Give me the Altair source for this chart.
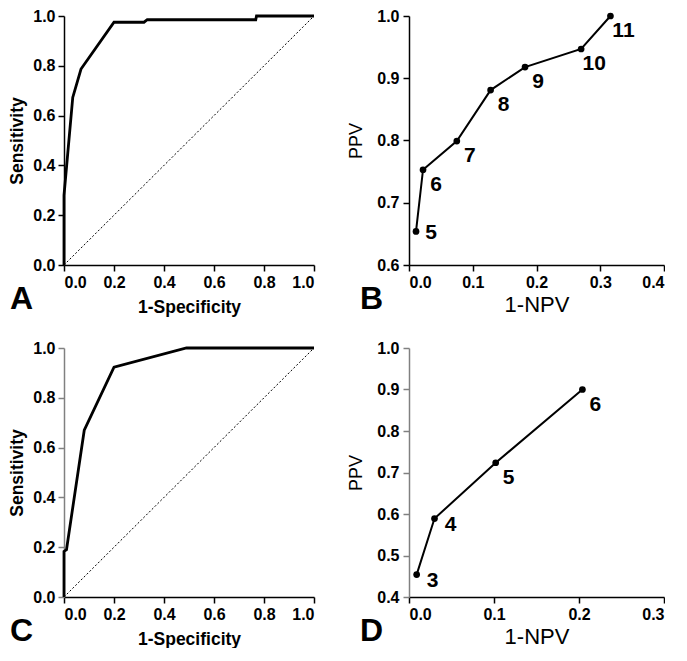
import altair as alt
import pandas as pd

# ---- data ----
roc_a_fpr = [0.0, 0.0, 0.035, 0.068, 0.2, 0.32, 0.333, 0.767, 0.77, 1.0]
roc_a_sens = [0.0, 0.28, 0.673, 0.787, 0.975, 0.975, 0.985, 0.985, 1.0, 1.0]

roc_c_fpr = [0.0, 0.0, 0.01, 0.081, 0.2, 0.49, 1.0]
roc_c_sens = [0.0, 0.183, 0.19, 0.67, 0.923, 1.0, 1.0]

b_npv = [0.011, 0.022, 0.075, 0.128, 0.182, 0.270, 0.316]
b_ppv = [0.654, 0.753, 0.799, 0.881, 0.918, 0.947, 1.0]
b_labels = ["5", "6", "7", "8", "9", "10", "11"]

d_npv = [0.009, 0.030, 0.102, 0.204]
d_ppv = [0.454, 0.589, 0.7235, 0.900]
d_labels = ["3", "4", "5", "6"]

diag_x = [0.0, 1.0]
diag_y = [0.0, 1.0]

panel_letters = ["A", "B", "C", "D"]

ticks_roc = [0.0, 0.2, 0.4, 0.6, 0.8, 1.0]
ticks_b_x = [0.0, 0.1, 0.2, 0.3, 0.4]
ticks_b_y = [0.6, 0.7, 0.8, 0.9, 1.0]
ticks_d_x = [0.0, 0.1, 0.2, 0.3]
ticks_d_y = [0.4, 0.5, 0.6, 0.7, 0.8, 0.9, 1.0]

FONT = "Liberation Sans"


def axis(title, values, dom_color="black", bold_title=True, tsize=18, tpad=10, lpad=4):
    return alt.Axis(
        title=title, values=values, format=".1f", grid=False,
        domainColor=dom_color, tickColor=dom_color, domainWidth=1.5, tickWidth=1.5,
        tickSize=6, labelPadding=lpad, labelFont=FONT, labelFontSize=16,
        labelFontWeight="bold", labelColor="black", labelOverlap=False,
        titleFont=FONT, titleFontSize=tsize,
        titleFontWeight="bold" if bold_title else "normal",
        titleColor="black", titlePadding=tpad,
    )


def letter(ch, dx, h, dy):
    df = pd.DataFrame({"t": [ch]})
    return alt.Chart(df).mark_text(
        font=FONT, fontSize=32, fontWeight="bold", align="left",
        baseline="alphabetic", color="black",
    ).encode(x=alt.value(dx), y=alt.value(h + dy), text="t:N")


def roc_panel(fpr, sens, let, w, h, ydom_color):
    df = pd.DataFrame({"x": fpr, "y": sens, "i": list(range(len(fpr)))})
    dg = pd.DataFrame({"x": diag_x, "y": diag_y})
    xs = alt.Scale(domain=[0, 1], nice=False, zero=False)
    ys = alt.Scale(domain=[0, 1], nice=False, zero=False)
    diag = alt.Chart(dg).mark_line(
        color="black", strokeWidth=1, strokeDash=[2, 2]
    ).encode(
        x=alt.X("x:Q", scale=xs, axis=axis("1-Specificity", ticks_roc, tsize=17.5, tpad=8, lpad=3)),
        y=alt.Y("y:Q", scale=ys, axis=axis("Sensitivity", ticks_roc, ydom_color, tsize=17.5, tpad=6, lpad=3)),
    )
    line = alt.Chart(df).mark_line(color="black", strokeWidth=2.8).encode(
        x="x:Q", y="y:Q", order="i:Q"
    )
    return alt.layer(diag, line, letter(let, -54, h, 44)).properties(width=w, height=h)


def pv_panel(npv, ppv, labs, let, w, h, xdom, ydom, xt, yt, n_low, low_dx, low_dy, ydom_color):
    df = pd.DataFrame({"x": npv, "y": ppv, "lab": labs, "i": list(range(len(npv)))})
    xs = alt.Scale(domain=xdom, nice=False, zero=False)
    ys = alt.Scale(domain=ydom, nice=False, zero=False)
    base = alt.Chart(df).encode(
        x=alt.X("x:Q", scale=xs, axis=axis("1-NPV", xt, bold_title=False, tsize=22, tpad=4, lpad=3)),
        y=alt.Y("y:Q", scale=ys, axis=axis("PPV", yt, ydom_color, bold_title=False, tsize=18, tpad=11)),
    )
    line = base.mark_line(color="black", strokeWidth=2).encode(order="i:Q")
    pts = base.mark_point(filled=True, color="black", size=45, opacity=1)
    lab_low = base.transform_filter(f"datum.i < {n_low}").mark_text(
        font=FONT, fontSize=21, fontWeight="bold", align="center",
        baseline="middle", dx=low_dx, dy=low_dy, color="black",
    ).encode(text="lab:N")
    lab_hi = base.transform_filter(f"datum.i >= {n_low}").mark_text(
        font=FONT, fontSize=21, fontWeight="bold", align="center",
        baseline="middle", dx=13, dy=15, color="black",
    ).encode(text="lab:N")
    return alt.layer(line, pts, lab_low, lab_hi, letter(let, -49, h, 44)).properties(width=w, height=h)


pa = roc_panel(roc_a_fpr, roc_a_sens, panel_letters[0], 250, 249, "black")
pb = pv_panel(b_npv, b_ppv, b_labels, panel_letters[1], 255, 249, [0, 0.4], [0.6, 1.0],
              ticks_b_x, ticks_b_y, 1, 15, 2, "black")
pc = roc_panel(roc_c_fpr, roc_c_sens, panel_letters[2], 250, 249, "#808080")
pd_ = pv_panel(d_npv, d_ppv, d_labels, panel_letters[3], 255, 249, [0, 0.3], [0.4, 1.0],
               ticks_d_x, ticks_d_y, 2, 16, 6, "#808080")

chart = alt.vconcat(
    alt.hconcat(pa, pb, spacing=27),
    alt.hconcat(pc, pd_, spacing=27),
    spacing=24,
).properties(padding=0, background="white").configure_view(stroke=None)

chart.save("out.html", embed_options={"renderer": "svg", "actions": False})
